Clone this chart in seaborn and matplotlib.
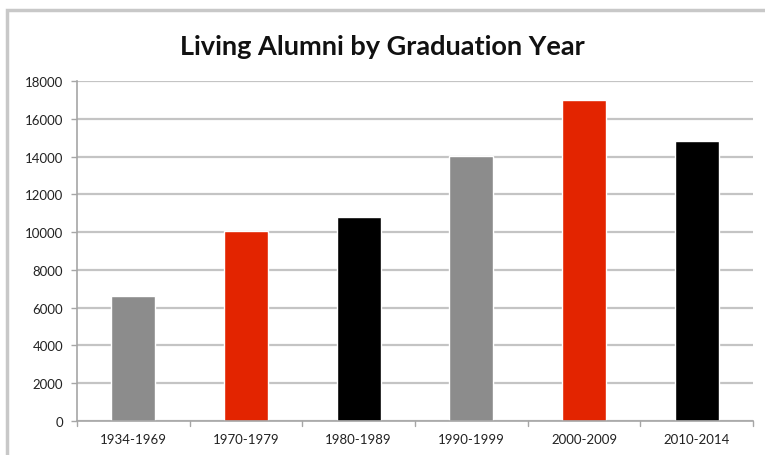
import matplotlib
matplotlib.use("Agg")
import matplotlib.pyplot as plt
import seaborn as sns
import pandas as pd
from matplotlib.patches import Rectangle

# Values
periods = ["1934-1969", "1970-1979", "1980-1989", "1990-1999", "2000-2009", "2010-2014"]
alumni = [6600, 10050, 10800, 14050, 17000, 14800]
bar_colors = ["#8c8c8c", "#e32400", "#000000", "#8c8c8c", "#e32400", "#000000"]
y_ticks = [0, 2000, 4000, 6000, 8000, 10000, 12000, 14000, 16000, 18000]

df = pd.DataFrame({"period": periods, "alumni": alumni})

sns.set_theme(style="white")
plt.rcParams["font.family"] = ["Lato", "DejaVu Sans"]

W, H = 765, 456
fig = plt.figure(figsize=(W / 100, H / 100), dpi=100)
ax = fig.add_axes([77 / W, 1 - 422 / H, (753 - 77) / W, (422 - 82) / H])

sns.barplot(data=df, x="period", y="alumni", hue="period", palette=bar_colors,
            legend=False, width=0.39, saturation=1, ax=ax)

ax.set_ylim(0, 18000)
ax.set_xlim(-0.5, len(periods) - 0.5)
ax.set_yticks(y_ticks)
ax.set_yticklabels([str(t) for t in y_ticks], fontsize=9.5, color="#222222")
ax.tick_params(axis="x", labelsize=9.5, labelcolor="#222222", length=0, pad=9)
ax.tick_params(axis="y", length=4, width=1, color="#a6a6a6", left=True, pad=6)
ax.set_xlabel("")
ax.set_ylabel("")

# gridlines
ax.set_axisbelow(True)
ax.yaxis.grid(True, color="#c4c4c4", linewidth=1.6)

# category separator ticks on the x axis
for i in range(len(periods) + 1):
    ax.plot([i - 0.5, i - 0.5], [0, -250], color="#a6a6a6", lw=1, clip_on=False)

for side in ["top", "right"]:
    ax.spines[side].set_visible(False)
for side in ["left", "bottom"]:
    ax.spines[side].set_color("#a6a6a6")
    ax.spines[side].set_linewidth(1.2)

fig.text(0.5, 1 - 47 / H, "Living Alumni by Graduation Year", ha="center", va="center",
         fontsize=19.5, fontweight="bold", color="#111111")

# outer chart frame
fig.patches.append(Rectangle((7 / W, -0.05), 1.2, 1 - 11 / H + 0.05,
                             transform=fig.transFigure, fill=False,
                             edgecolor="#c8c8c8", linewidth=2.5))

fig.savefig("out.png", dpi=100)
